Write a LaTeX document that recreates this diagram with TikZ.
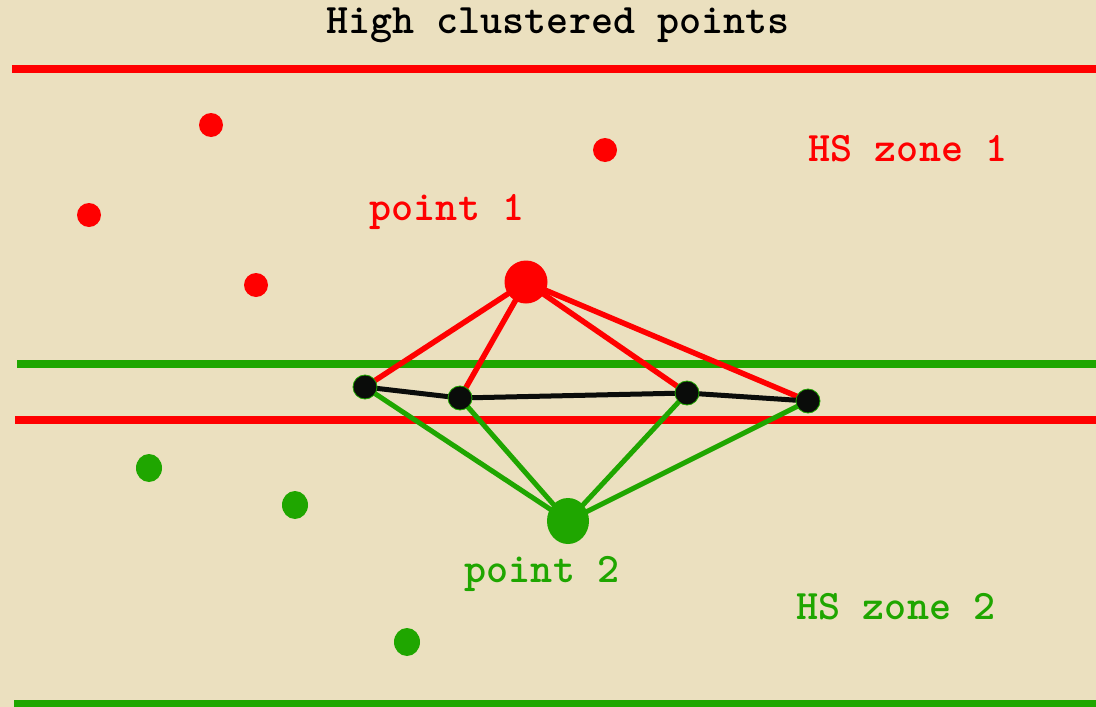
\documentclass[tikz,border=0pt]{standalone}
\usepackage{fontspec}
\usetikzlibrary{shapes.geometric}
\definecolor{bg}{RGB}{235,224,191}
\definecolor{hsred}{RGB}{255,0,0}
\definecolor{hsgreen}{RGB}{31,166,0}
\definecolor{dotblack}{RGB}{10,12,10}
\begin{document}
\begin{tikzpicture}[x=1pt,y=-1pt,
  lbl/.style={font=\fontsize{42}{46}\selectfont\ttfamily\bfseries, inner sep=0pt, anchor=base},
  zoneline/.style={line width=7.5pt},
  reddot/.style={circle, fill=hsred, inner sep=0pt, minimum size=24pt},
  greendot/.style={ellipse, fill=hsgreen, inner sep=0pt, minimum width=26pt, minimum height=28pt},
  blackdot/.style={circle, fill=dotblack, draw=hsgreen, line width=0.8pt, inner sep=0pt, minimum size=24pt},
  redlink/.style={hsred, line width=5.5pt},
  greenlink/.style={hsgreen, line width=5pt},
  blacklink/.style={dotblack, line width=5pt}
]
\fill[bg] (0,0) rectangle (1096,707);
\useasboundingbox (0,0) rectangle (1096,707);
% zone lines
\coordinate (l1a) at (12,69);  \coordinate (l1b) at (1096,69);
\coordinate (l2a) at (17,364); \coordinate (l2b) at (1096,364);
\coordinate (l3a) at (15,420); \coordinate (l3b) at (1096,420);
\coordinate (l4a) at (14,704); \coordinate (l4b) at (1096,704);
\draw[zoneline, hsred] (l1a) -- (l1b);
\draw[zoneline, hsgreen] (l2a) -- (l2b);
\draw[zoneline, hsred] (l3a) -- (l3b);
\draw[zoneline, hsgreen] (l4a) -- (l4b);
% texts
\node[lbl] (title) at (558,33) {High clustered points};
\node[lbl, text=hsred] (zone1) at (908,161) {HS zone 1};
\node[lbl, text=hsred] (p1lbl) at (447,220) {point 1};
\node[lbl, text=hsgreen] (p2lbl) at (542,582) {point 2};
\node[lbl, text=hsgreen] (zone2) at (896,619) {HS zone 2};
% scattered points
\node[reddot] (r1) at (211,125) {};
\node[reddot] (r2) at (89,215) {};
\node[reddot] (r3) at (256,285) {};
\node[reddot] (r4) at (605,150) {};
\node[greendot] (g1) at (149,468) {};
\node[greendot] (g2) at (295,505) {};
\node[greendot] (g3) at (407,642) {};
% main points
\coordinate (p1) at (526,282);
\coordinate (p2) at (568,521);
\coordinate (a) at (365,387);
\coordinate (b) at (460,398);
\coordinate (c) at (687,393);
\coordinate (d) at (808,401);
\foreach \t in {a,b,c,d} {
  \draw[redlink] (p1) -- (\t);
  \draw[greenlink] (p2) -- (\t);
}
\draw[blacklink] (a) -- (b) -- (c) -- (d);
\node[circle, fill=hsred, inner sep=0pt, minimum size=43pt] (point1) at (p1) {};
\node[ellipse, fill=hsgreen, inner sep=0pt, minimum width=42pt, minimum height=46pt] (point2) at (p2) {};
\node[blackdot] (da) at (a) {};
\node[blackdot] (db) at (b) {};
\node[blackdot] (dc) at (c) {};
\node[blackdot] (dd) at (d) {};
\end{tikzpicture}
\end{document}
